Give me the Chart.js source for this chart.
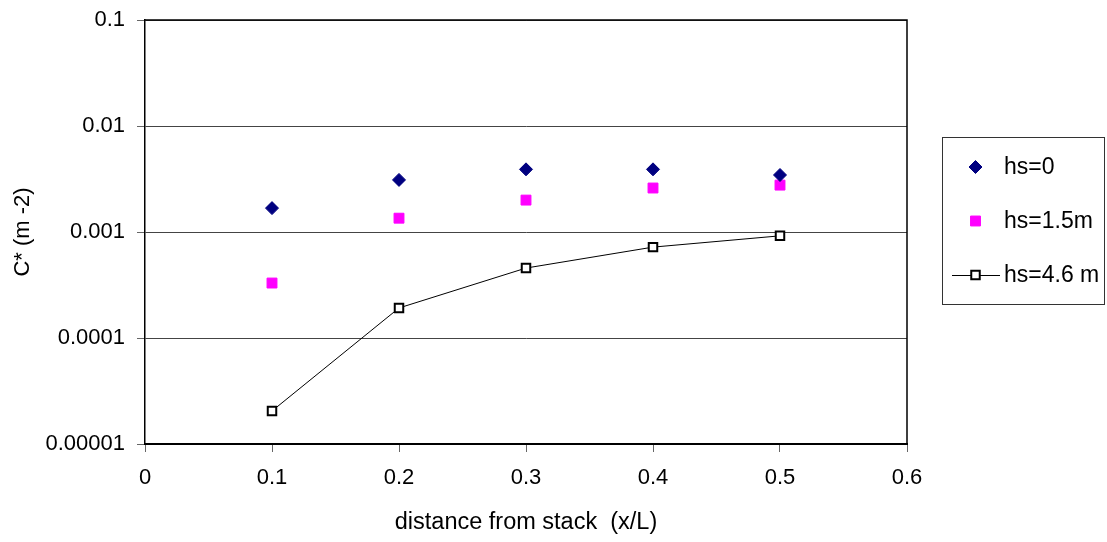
<!DOCTYPE html>
<html>
<head>
<meta charset="utf-8">
<script src="https://cdn.jsdelivr.net/npm/chart.js@4/dist/chart.umd.min.js"></script>
<style>
  html,body{margin:0;padding:0;background:#fff;}
  #wrap{width:1107px;height:542px;}
</style>
</head>
<body>
<div id="wrap"><canvas id="c"></canvas></div>
<script>
// data
const xs=[0.1,0.2,0.3,0.4,0.5];
const hs0=[0.00168,0.0031,0.0039,0.0039,0.00345];
const hs15=[0.00033,0.00135,0.0020,0.0026,0.00277];
const hs46=[0.0000205,0.000192,0.000457,0.00072,0.00092];
const yTicks=[0.00001,0.0001,0.001,0.01,0.1];
const seriesNames=['hs=0','hs=1.5m','hs=4.6 m'];

const pts=(ys)=>xs.map((x,i)=>({x:x,y:ys[i]}));
const FONT='"Liberation Sans", Arial, sans-serif';

// legend in a framed box on the right
const boxLegend={
  id:'boxLegend',
  afterDraw(chart){
    const ctx=chart.ctx;
    const bx=942.5,by=137.5,bw=162,bh=167;
    ctx.save();
    ctx.strokeStyle='#333';ctx.lineWidth=1;
    ctx.strokeRect(bx,by,bw,bh);
    const rows=[167,221,275];
    chart.data.datasets.forEach((ds,i)=>{
      const y=rows[i];
      if(ds.showLine){
        ctx.strokeStyle=ds.borderColor;ctx.lineWidth=1;
        ctx.beginPath();ctx.moveTo(952,y+0.5);ctx.lineTo(1000,y+0.5);ctx.stroke();
      }
      ctx.fillStyle=ds.pointBackgroundColor;
      ctx.strokeStyle=ds.pointBorderColor;
      ctx.lineWidth=ds.pointBorderWidth;
      Chart.helpers.drawPoint(ctx,{pointStyle:ds.pointStyle,radius:ds.pointRadius,borderWidth:ds.pointBorderWidth},975.5,y);
      ctx.fillStyle='#000';
      ctx.font='23px '+FONT;
      ctx.textBaseline='middle';ctx.textAlign='left';
      ctx.fillText(seriesNames[i],1004,y+1);
    });
    ctx.restore();
  }
};

new Chart(document.getElementById('c'),{
  type:'scatter',
  data:{datasets:[
    {label:seriesNames[0],data:pts(hs0),pointStyle:'rectRot',pointRadius:6.5,pointHoverRadius:6.5,
      pointBackgroundColor:'#000080',pointBorderColor:'#000080',pointBorderWidth:1,showLine:false},
    {label:seriesNames[1],data:pts(hs15),pointStyle:'rect',pointRadius:7,pointHoverRadius:7,
      pointBackgroundColor:'#ff00ff',pointBorderColor:'#ff00ff',pointBorderWidth:1,showLine:false},
    {label:seriesNames[2],data:pts(hs46),pointStyle:'rect',pointRadius:6,pointHoverRadius:6,
      pointBackgroundColor:'#ffffff',pointBorderColor:'#000000',pointBorderWidth:2,
      showLine:true,borderColor:'#000',borderWidth:1,tension:0}
  ]},
  options:{
    responsive:true,maintainAspectRatio:false,animation:false,
    layout:{padding:{left:10,right:200,top:20,bottom:5}},
    plugins:{legend:{display:false},tooltip:{enabled:false}},
    scales:{
      x:{type:'linear',min:0,max:0.6,
        ticks:{stepSize:0.1,color:'#000',font:{family:FONT,size:22},padding:13,
          callback:v=>String(+v.toFixed(1))},
        grid:{drawOnChartArea:false,color:'#000',tickLength:8,tickColor:'#666'},
        border:{color:'#000',width:2},
        title:{display:true,text:'distance from stack  (x/L)',color:'#000',font:{family:FONT,size:23.5},padding:0},
        afterFit:s=>{s.height=93;s.paddingLeft=0;s.paddingRight=0;}
      },
      y:{type:'logarithmic',min:0.00001,max:0.1,
        afterBuildTicks:s=>{s.ticks=yTicks.map(v=>({value:v}));},
        ticks:{color:'#000',font:{family:FONT,size:22},padding:12,callback:v=>String(v)},
        grid:{color:'#444',tickLength:8,tickColor:'#666'},
        border:{color:'#000',width:1.5},
        title:{display:true,text:'C* (m -2)',color:'#000',font:{family:FONT,size:22},padding:0},
        afterFit:s=>{s.width=135;s.paddingTop=0;s.paddingBottom=0;}
      }
    }
  },
  plugins:[boxLegend,{
    id:'frame',
    afterDraw(chart){
      const a=chart.chartArea,ctx=chart.ctx;
      ctx.save();ctx.strokeStyle='#000';ctx.lineWidth=1.5;
      ctx.beginPath();ctx.moveTo(a.left,a.top);ctx.lineTo(a.right,a.top);ctx.lineTo(a.right,a.bottom);ctx.stroke();
      ctx.restore();
    }
  }]
});
</script>
</body>
</html>
